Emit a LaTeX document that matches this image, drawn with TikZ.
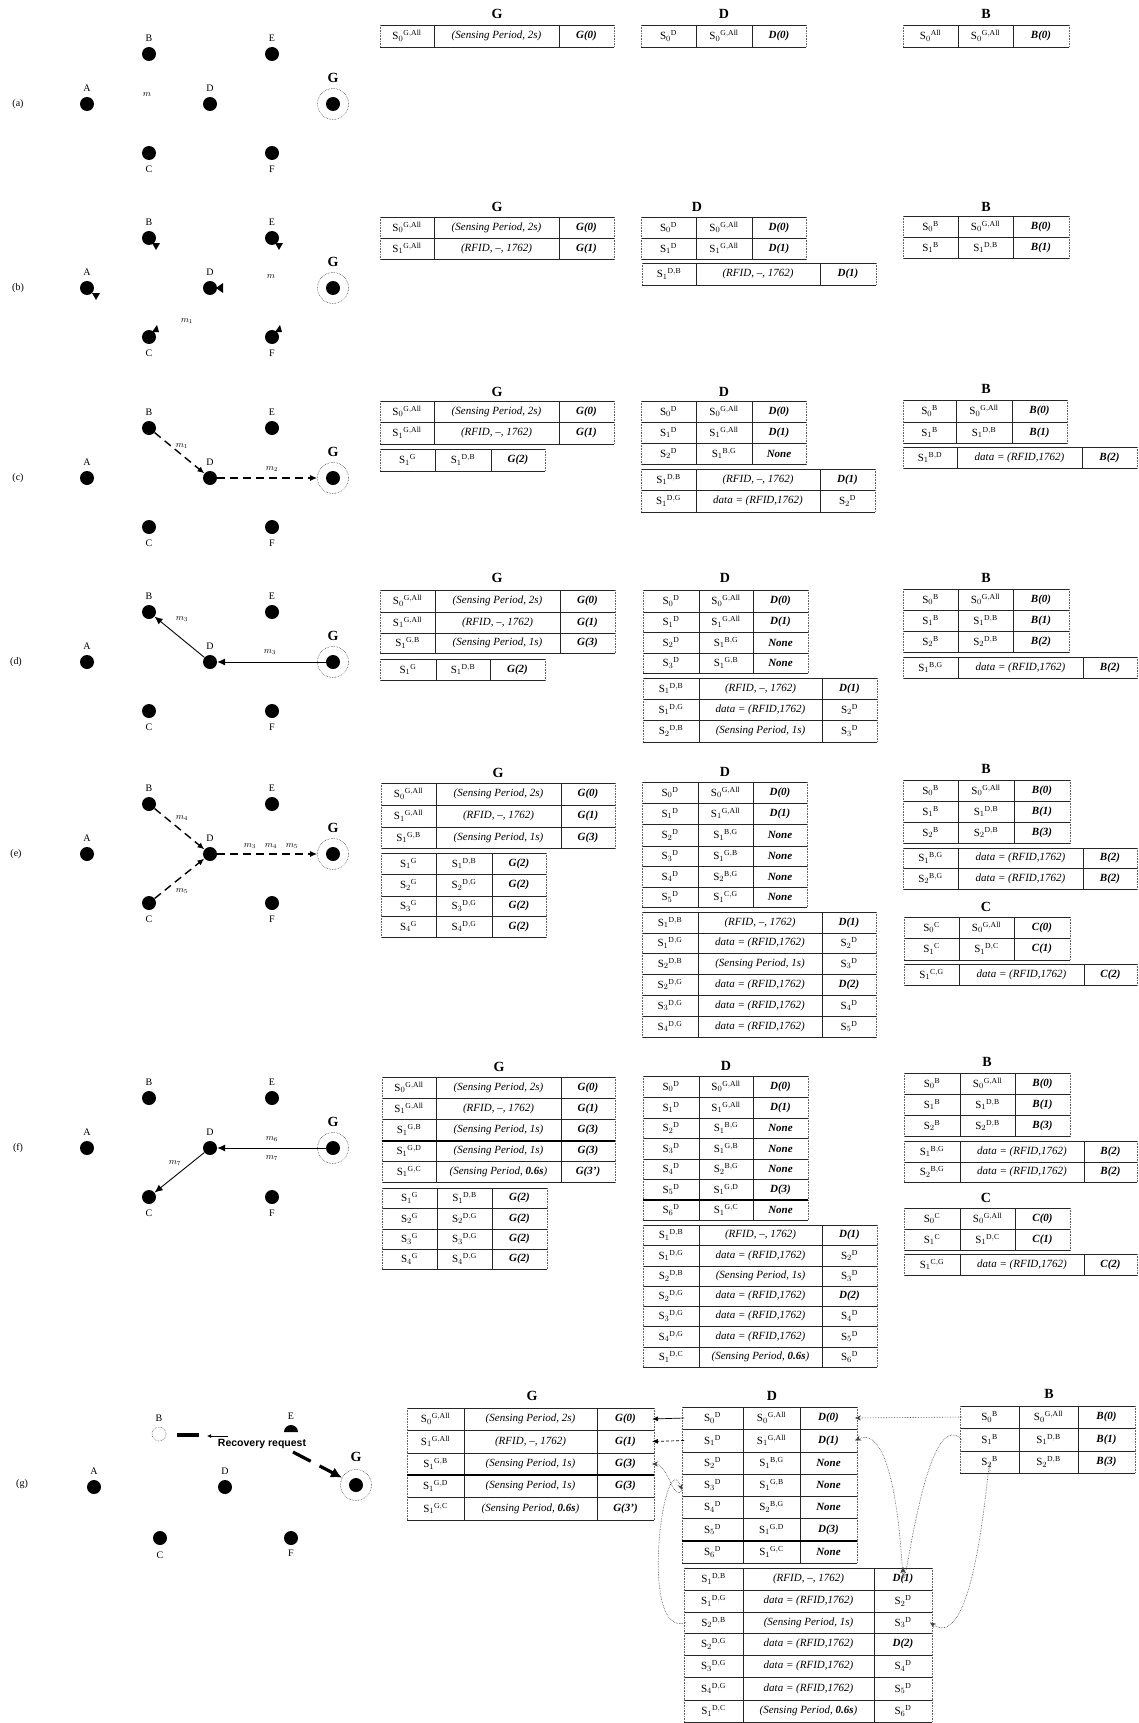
\documentclass[tikz,border=0pt]{standalone}
\usepackage{fontspec}
\setmainfont{Liberation Serif}
\newfontfamily\sansbold{Liberation Sans}
\usetikzlibrary{arrows.meta}
\newcommand\setcols[4]{\def\colA{#1}\def\colB{#2}\def\colC{#3}\def\colD{#4}}
\newcommand\trow[6]{%
  \node[cell, minimum width={(\colB-\colA-4)*1pt}, minimum height={(#3-#2-4)*1pt}] (#1-1) at ({(\colA+\colB)/2},{(#2+#3)/2}) {#4};
  \node[cell, minimum width={(\colC-\colB-4)*1pt}, minimum height={(#3-#2-4)*1pt}] (#1-2) at ({(\colB+\colC)/2},{(#2+#3)/2}) {#5};
  \node[cell, minimum width={(\colD-\colC-4)*1pt}, minimum height={(#3-#2-4)*1pt}] (#1-3) at ({(\colC+\colD)/2},{(#2+#3)/2}) {#6};
  \draw[hrule] (\colA,#2) -- (\colD,#2) (\colA,#3) -- (\colD,#3);
  \draw[hrule] (\colB,#2) -- (\colB,#3) (\colC,#2) -- (\colC,#3);
  \draw[orule] (\colA,#2) -- (\colA,#3) (\colD,#2) -- (\colD,#3);
}
\newcommand\Sx[2]{$\mathrm{S}_{#1}{}^{\mathrm{#2}}$}
\newcommand\bi[1]{\textbf{\textit{#1}}}
\newcommand\SPtwo{\textit{(Sensing Period, 2s)}}
\newcommand\SPone{\textit{(Sensing Period, 1s)}}
\newcommand\SPsix{\textit{(Sensing Period, \textbf{0.6s})}}
\newcommand\RF{\textit{(RFID, --, 1762)}}
\newcommand\DT{\textit{data = (RFID,1762)}}
\newcommand\graphrow[2]{%
  \node[dot] (#1A) at (87,#2) {};
  \node[dot] (#1B) at (149,#2-50) {};
  \node[dot] (#1C) at (149,#2+49) {};
  \node[dot] (#1D) at (210,#2) {};
  \node[dot] (#1E) at (272,#2-50) {};
  \node[dot] (#1F) at (272,#2+49) {};
  \node[dot] (#1G) at (333,#2) {};
  \node[ring] (#1Gr) at (333,#2) {};
  \node[nlab] (#1Al) at (87,#2-16) {A};
  \node[nlab] (#1Bl) at (149,#2-66) {B};
  \node[nlab] (#1Cl) at (149,#2+65) {C};
  \node[nlab] (#1Dl) at (210,#2-16) {D};
  \node[nlab] (#1El) at (272,#2-66) {E};
  \node[nlab] (#1Fl) at (272,#2+65) {F};
  \node[glab] (#1Gl) at (333,#2-26) {G};
}
\begin{document}
\begin{tikzpicture}[x=1pt,y=-1pt,
  cell/.style={inner sep=0pt, outer sep=0pt, font=\fontsize{11}{12}\selectfont},
  hrule/.style={line width=0.6pt, black!85},
  orule/.style={line width=0.6pt, black!60, densely dotted},
  thickrule/.style={line width=1.6pt},
  hdr/.style={font=\fontsize{14}{16}\selectfont\bfseries, inner sep=0pt},
  dot/.style={circle, fill=black, inner sep=0pt, minimum size=14pt},
  ring/.style={circle, draw=black!70, densely dotted, line width=0.6pt, inner sep=0pt, minimum size=31pt},
  nlab/.style={font=\fontsize{10}{12}\selectfont, inner sep=0pt},
  glab/.style={font=\fontsize{14}{16}\selectfont\bfseries, inner sep=0pt},
  rowlab/.style={font=\fontsize{10}{12}\selectfont, inner sep=0pt},
  mlab/.style={font=\fontsize{9}{10}\selectfont, inner sep=0pt},
  dsh/.style={line width=1.4pt, dash pattern=on 8pt off 5pt, -{Latex[length=7pt,width=6pt]}},
  sol/.style={line width=0.9pt, -{Latex[length=8pt,width=7pt]}},
  curv/.style={line width=0.6pt, black!75, densely dotted},
  recov/.style={line width=3.2pt, dash pattern=on 20pt off 10pt}
]
\useasboundingbox (0,0) rectangle (1138,1723);

%%%%%%%%%%%%%%%% graphs %%%%%%%%%%%%%%%%
\node[rowlab] (la) at (18,104) {(a)};
\graphrow{a}{104}
\node[mlab] (am) at (147,95) {$m$};

\node[rowlab] (lb) at (18,288) {(b)};
\graphrow{b}{288}
\node[mlab] (bm) at (271,277) {$m$};
\node[mlab] (bm1) at (187,321) {$m_1$};
\fill ([shift={(3,5)}]bB.center) -- ([shift={(11,5)}]bB.center) -- ([shift={(7,12)}]bB.center) -- cycle;
\fill ([shift={(3,5)}]bE.center) -- ([shift={(11,5)}]bE.center) -- ([shift={(7,12)}]bE.center) -- cycle;
\fill ([shift={(5,5)}]bA.center) -- ([shift={(13,5)}]bA.center) -- ([shift={(9,12)}]bA.center) -- cycle;
\fill ([shift={(6,0)}]bD.center) -- ([shift={(13,-5)}]bD.center) -- ([shift={(13,5)}]bD.center) -- cycle;
\fill ([shift={(3,-5)}]bC.center) -- ([shift={(10,-5)}]bC.center) -- ([shift={(8,-12)}]bC.center) -- cycle;
\fill ([shift={(3,-5)}]bF.center) -- ([shift={(10,-5)}]bF.center) -- ([shift={(8,-12)}]bF.center) -- cycle;

\node[rowlab] (lc) at (18,478) {(c)};
\graphrow{c}{478}
\draw[dsh] (cB) -- (cD);
\draw[dsh] (cD) -- (cGr);
\node[mlab] (cm1) at (182,446) {$m_1$};
\node[mlab] (cm2) at (272,469) {$m_2$};

\node[rowlab] (ld) at (16,662) {(d)};
\graphrow{d}{662}
\draw[sol] (dG) -- (dD);
\draw[sol] (dD) -- (dB);
\node[mlab] (dm1) at (270,652) {$m_3$};
\node[mlab] (dm2) at (182,619) {$m_3$};

\node[rowlab] (le) at (16,854) {(e)};
\graphrow{e}{854}
\draw[dsh] (eB) -- (eD);
\draw[dsh] (eC) -- (eD);
\draw[dsh] (eD) -- (eGr);
\node[mlab] (em1) at (182,818) {$m_4$};
\node[mlab] (em2) at (182,891) {$m_5$};
\node[mlab] (em3) at (250,846) {$m_3$};
\node[mlab] (em4) at (271,846) {$m_4$};
\node[mlab] (em5) at (292,846) {$m_5$};

\node[rowlab] (lf) at (18,1148) {(f)};
\graphrow{f}{1148}
\draw[sol] (fG) -- (fD);
\draw[sol] (fD) -- (fC);
\node[mlab] (fm1) at (272,1139) {$m_6$};
\node[mlab] (fm2) at (272,1158) {$m_7$};
\node[mlab] (fm3) at (175,1163) {$m_7$};

% (g)
\node[rowlab] (lg) at (22,1484) {(g)};
\node[dot] (gA) at (94,1487) {};
\node[circle, draw=black!60, densely dotted, line width=0.6pt, inner sep=0pt, minimum size=14pt] (gB) at (159,1434) {};
\coordinate (gE) at (291,1432);
\fill ([xshift=-7pt]gE) arc[start angle=180, end angle=360, radius=7] -- cycle;
\node[dot] (gD) at (225,1487) {};
\node[dot] (gC) at (160,1538) {};
\node[dot] (gF) at (291,1538) {};
\node[dot] (gG) at (356,1485) {};
\node[ring] (gGr) at (356,1485) {};
\node[nlab] (gAl) at (94,1471) {A};
\node[nlab] (gBl) at (159,1418) {B};
\node[nlab] (gEl) at (291,1416) {E};
\node[nlab] (gDl) at (225,1471) {D};
\node[nlab] (gCl) at (160,1555) {C};
\node[nlab] (gFl) at (291,1553) {F};
\node[glab] (gGl) at (356,1457) {G};
\node[font=\sansbold\bfseries\fontsize{10.5}{12}\selectfont, inner sep=0pt] (gRt) at (262,1444) {Recovery request};
\coordinate (gR0) at (177,1435);
\coordinate (gR1) at (199,1435);
\draw[line width=3.2pt] (gR0) -- (gR1);
\coordinate (gR2) at (228,1436);
\coordinate (gR3) at (207,1436);
\draw[line width=1pt, -{Latex[length=4pt,width=4pt]}] (gR2) -- (gR3);
\coordinate (gR4) at (293,1452);
\draw[recov, -{Latex[length=11pt,width=11pt]}] (gR4) -- (gGr);

%%%%%%%%%%%%%%%% tables (a) %%%%%%%%%%%%%%%%
\node[hdr] (aGh) at (497,14) {G};
\node[hdr] (aDh) at (724,14) {D};
\node[hdr] (aBh) at (986,14) {B};
\setcols{380}{434}{559}{614}
\trow{aG0}{25}{47}{\Sx{0}{G,All}}{\SPtwo}{\bi{G(0)}}
\setcols{641}{696}{752}{806}
\trow{aD0}{25}{47}{\Sx{0}{D}}{\Sx{0}{G,All}}{\bi{D(0)}}
\setcols{903}{958}{1013}{1069}
\trow{aB0}{25}{47}{\Sx{0}{All}}{\Sx{0}{G,All}}{\bi{B(0)}}

%%%%%%%%%%%%%%%% tables (b) %%%%%%%%%%%%%%%%
\node[hdr] (bGh) at (497,207) {G};
\node[hdr] (bDh) at (697,207) {D};
\node[hdr] (bBh) at (986,207) {B};
\setcols{380}{434}{559}{614}
\trow{bG0}{217}{238}{\Sx{0}{G,All}}{\SPtwo}{\bi{G(0)}}
\trow{bG1}{238}{259}{\Sx{1}{G,All}}{\RF}{\bi{G(1)}}
\setcols{641}{696}{752}{806}
\trow{bD0}{217}{238}{\Sx{0}{D}}{\Sx{0}{G,All}}{\bi{D(0)}}
\trow{bD1}{238}{259}{\Sx{1}{D}}{\Sx{1}{G,All}}{\bi{D(1)}}
\setcols{642}{696}{820}{876}
\trow{bE0}{263}{285}{\Sx{1}{D,B}}{\RF}{\bi{D(1)}}
\setcols{903}{958}{1013}{1069}
\trow{bB0}{216}{237}{\Sx{0}{B}}{\Sx{0}{G,All}}{\bi{B(0)}}
\trow{bB1}{237}{258}{\Sx{1}{B}}{\Sx{1}{D,B}}{\bi{B(1)}}

%%%%%%%%%%%%%%%% tables (c) %%%%%%%%%%%%%%%%
\node[hdr] (cGh) at (497,392) {G};
\node[hdr] (cDh) at (724,392) {D};
\node[hdr] (cBh) at (986,389) {B};
\setcols{380}{434}{559}{614}
\trow{cG0}{401}{422}{\Sx{0}{G,All}}{\SPtwo}{\bi{G(0)}}
\trow{cG1}{422}{444}{\Sx{1}{G,All}}{\RF}{\bi{G(1)}}
\setcols{380}{435}{491}{545}
\trow{cH0}{449}{471}{\Sx{1}{G}}{\Sx{1}{D,B}}{\bi{G(2)}}
\setcols{641}{696}{752}{806}
\trow{cD0}{401}{422}{\Sx{0}{D}}{\Sx{0}{G,All}}{\bi{D(0)}}
\trow{cD1}{422}{443}{\Sx{1}{D}}{\Sx{1}{G,All}}{\bi{D(1)}}
\trow{cD2}{443}{464}{\Sx{2}{D}}{\Sx{1}{B,G}}{\bi{None}}
\setcols{641}{696}{820}{875}
\trow{cE0}{469}{490}{\Sx{1}{D,B}}{\RF}{\bi{D(1)}}
\trow{cE1}{490}{512}{\Sx{1}{D,G}}{\DT}{\Sx{2}{D}}
\setcols{903}{956}{1012}{1067}
\trow{cB0}{400}{422}{\Sx{0}{B}}{\Sx{0}{G,All}}{\bi{B(0)}}
\trow{cB1}{422}{443}{\Sx{1}{B}}{\Sx{1}{D,B}}{\bi{B(1)}}
\setcols{903}{957}{1082}{1137}
\trow{cF0}{447}{468}{\Sx{1}{B,D}}{\DT}{\bi{B(2)}}

%%%%%%%%%%%%%%%% tables (d) %%%%%%%%%%%%%%%%
\node[hdr] (dGh) at (497,578) {G};
\node[hdr] (dDh) at (725,578) {D};
\node[hdr] (dBh) at (986,578) {B};
\setcols{380}{435}{560}{615}
\trow{dG0}{590}{612}{\Sx{0}{G,All}}{\SPtwo}{\bi{G(0)}}
\trow{dG1}{612}{633}{\Sx{1}{G,All}}{\RF}{\bi{G(1)}}
\trow{dG2}{633}{653}{\Sx{1}{G,B}}{\SPone}{\bi{G(3)}}
\setcols{380}{436}{490}{545}
\trow{dH0}{659}{680}{\Sx{1}{G}}{\Sx{1}{D,B}}{\bi{G(2)}}
\setcols{643}{699}{753}{808}
\trow{dD0}{590}{612}{\Sx{0}{D}}{\Sx{0}{G,All}}{\bi{D(0)}}
\trow{dD1}{612}{632}{\Sx{1}{D}}{\Sx{1}{G,All}}{\bi{D(1)}}
\trow{dD2}{632}{653}{\Sx{2}{D}}{\Sx{1}{B,G}}{\bi{None}}
\trow{dD3}{653}{673}{\Sx{3}{D}}{\Sx{1}{G,B}}{\bi{None}}
\setcols{643}{699}{822}{877}
\trow{dE0}{678}{699}{\Sx{1}{D,B}}{\RF}{\bi{D(1)}}
\trow{dE1}{699}{720}{\Sx{1}{D,G}}{\DT}{\Sx{2}{D}}
\trow{dE2}{720}{742}{\Sx{2}{D,B}}{\SPone}{\Sx{3}{D}}
\setcols{903}{958}{1013}{1069}
\trow{dB0}{589}{610}{\Sx{0}{B}}{\Sx{0}{G,All}}{\bi{B(0)}}
\trow{dB1}{610}{631}{\Sx{1}{B}}{\Sx{1}{D,B}}{\bi{B(1)}}
\trow{dB2}{631}{652}{\Sx{2}{B}}{\Sx{2}{D,B}}{\bi{B(2)}}
\setcols{903}{958}{1083}{1137}
\trow{dF0}{657}{678}{\Sx{1}{B,G}}{\DT}{\bi{B(2)}}

%%%%%%%%%%%%%%%% tables (e) %%%%%%%%%%%%%%%%
\node[hdr] (eGh) at (498,773) {G};
\node[hdr] (eDh) at (725,772) {D};
\node[hdr] (eBh) at (986,769) {B};
\node[hdr] (eCh) at (986,907) {C};
\setcols{381}{436}{561}{615}
\trow{eG0}{783}{805}{\Sx{0}{G,All}}{\SPtwo}{\bi{G(0)}}
\trow{eG1}{805}{827}{\Sx{1}{G,All}}{\RF}{\bi{G(1)}}
\trow{eG2}{827}{848}{\Sx{1}{G,B}}{\SPone}{\bi{G(3)}}
\setcols{381}{436}{492}{546}
\trow{eH0}{853}{874}{\Sx{1}{G}}{\Sx{1}{D,B}}{\bi{G(2)}}
\trow{eH1}{874}{896}{\Sx{2}{G}}{\Sx{2}{D,G}}{\bi{G(2)}}
\trow{eH2}{896}{916}{\Sx{3}{G}}{\Sx{3}{D,G}}{\bi{G(2)}}
\trow{eH3}{916}{937}{\Sx{4}{G}}{\Sx{4}{D,G}}{\bi{G(2)}}
\setcols{642}{698}{753}{807}
\trow{eD0}{782}{803}{\Sx{0}{D}}{\Sx{0}{G,All}}{\bi{D(0)}}
\trow{eD1}{803}{824}{\Sx{1}{D}}{\Sx{1}{G,All}}{\bi{D(1)}}
\trow{eD2}{824}{846}{\Sx{2}{D}}{\Sx{1}{B,G}}{\bi{None}}
\trow{eD3}{846}{866}{\Sx{3}{D}}{\Sx{1}{G,B}}{\bi{None}}
\trow{eD4}{866}{887}{\Sx{4}{D}}{\Sx{2}{B,G}}{\bi{None}}
\trow{eD5}{887}{907}{\Sx{5}{D}}{\Sx{1}{C,G}}{\bi{None}}
\setcols{642}{698}{822}{876}
\trow{eE0}{912}{933}{\Sx{1}{D,B}}{\RF}{\bi{D(1)}}
\trow{eE1}{933}{953}{\Sx{1}{D,G}}{\DT}{\Sx{2}{D}}
\trow{eE2}{953}{974}{\Sx{2}{D,B}}{\SPone}{\Sx{3}{D}}
\trow{eE3}{974}{995}{\Sx{2}{D,G}}{\DT}{\bi{D(2)}}
\trow{eE4}{995}{1016}{\Sx{3}{D,G}}{\DT}{\Sx{4}{D}}
\trow{eE5}{1016}{1037}{\Sx{4}{D,G}}{\DT}{\Sx{5}{D}}
\setcols{903}{958}{1014}{1070}
\trow{eB0}{780}{801}{\Sx{0}{B}}{\Sx{0}{G,All}}{\bi{B(0)}}
\trow{eB1}{801}{822}{\Sx{1}{B}}{\Sx{1}{D,B}}{\bi{B(1)}}
\trow{eB2}{822}{843}{\Sx{2}{B}}{\Sx{2}{D,B}}{\bi{B(3)}}
\setcols{903}{958}{1083}{1137}
\trow{eF0}{848}{868}{\Sx{1}{B,G}}{\DT}{\bi{B(2)}}
\trow{eF1}{868}{889}{\Sx{2}{B,G}}{\DT}{\bi{B(2)}}
\setcols{904}{959}{1014}{1070}
\trow{eC0}{917}{938}{\Sx{0}{C}}{\Sx{0}{G,All}}{\bi{C(0)}}
\trow{eC1}{938}{960}{\Sx{1}{C}}{\Sx{1}{D,C}}{\bi{C(1)}}
\setcols{904}{959}{1084}{1137}
\trow{eK0}{964}{985}{\Sx{1}{C,G}}{\DT}{\bi{C(2)}}

%%%%%%%%%%%%%%%% tables (f) %%%%%%%%%%%%%%%%
\node[hdr] (fGh) at (499,1067) {G};
\node[hdr] (fDh) at (726,1066) {D};
\node[hdr] (fBh) at (987,1062) {B};
\node[hdr] (fCh) at (986,1198) {C};
\setcols{382}{436}{561}{615}
\trow{fG0}{1077}{1098}{\Sx{0}{G,All}}{\SPtwo}{\bi{G(0)}}
\trow{fG1}{1098}{1119}{\Sx{1}{G,All}}{\RF}{\bi{G(1)}}
\trow{fG2}{1119}{1141}{\Sx{1}{G,B}}{\SPone}{\bi{G(3)}}
\trow{fG3}{1141}{1161}{\Sx{1}{G,D}}{\SPone}{\bi{G(3)}}
\trow{fG4}{1161}{1182}{\Sx{1}{G,C}}{\SPsix}{\bi{G(3')}}
\draw[thickrule] (382,1141) -- (615,1141);
\setcols{382}{437}{492}{547}
\trow{fH0}{1188}{1208}{\Sx{1}{G}}{\Sx{1}{D,B}}{\bi{G(2)}}
\trow{fH1}{1208}{1229}{\Sx{2}{G}}{\Sx{2}{D,G}}{\bi{G(2)}}
\trow{fH2}{1229}{1249}{\Sx{3}{G}}{\Sx{3}{D,G}}{\bi{G(2)}}
\trow{fH3}{1249}{1269}{\Sx{4}{G}}{\Sx{4}{D,G}}{\bi{G(2)}}
\setcols{643}{699}{753}{808}
\trow{fD0}{1076}{1097}{\Sx{0}{D}}{\Sx{0}{G,All}}{\bi{D(0)}}
\trow{fD1}{1097}{1118}{\Sx{1}{D}}{\Sx{1}{G,All}}{\bi{D(1)}}
\trow{fD2}{1118}{1138}{\Sx{2}{D}}{\Sx{1}{B,G}}{\bi{None}}
\trow{fD3}{1138}{1159}{\Sx{3}{D}}{\Sx{1}{G,B}}{\bi{None}}
\trow{fD4}{1159}{1179}{\Sx{4}{D}}{\Sx{2}{B,G}}{\bi{None}}
\trow{fD5}{1179}{1200}{\Sx{5}{D}}{\Sx{1}{G,D}}{\bi{D(3)}}
\trow{fD6}{1200}{1220}{\Sx{6}{D}}{\Sx{1}{G,C}}{\bi{None}}
\draw[thickrule] (643,1200) -- (808,1200);
\setcols{643}{699}{822}{877}
\trow{fE0}{1225}{1245}{\Sx{1}{D,B}}{\RF}{\bi{D(1)}}
\trow{fE1}{1245}{1266}{\Sx{1}{D,G}}{\DT}{\Sx{2}{D}}
\trow{fE2}{1266}{1286}{\Sx{2}{D,B}}{\SPone}{\Sx{3}{D}}
\trow{fE3}{1286}{1306}{\Sx{2}{D,G}}{\DT}{\bi{D(2)}}
\trow{fE4}{1306}{1326}{\Sx{3}{D,G}}{\DT}{\Sx{4}{D}}
\trow{fE5}{1326}{1347}{\Sx{4}{D,G}}{\DT}{\Sx{5}{D}}
\trow{fE6}{1347}{1367}{\Sx{1}{D,C}}{\SPsix}{\Sx{6}{D}}
\setcols{904}{960}{1015}{1070}
\trow{fB0}{1073}{1094}{\Sx{0}{B}}{\Sx{0}{G,All}}{\bi{B(0)}}
\trow{fB1}{1094}{1115}{\Sx{1}{B}}{\Sx{1}{D,B}}{\bi{B(1)}}
\trow{fB2}{1115}{1136}{\Sx{2}{B}}{\Sx{2}{D,B}}{\bi{B(3)}}
\setcols{904}{960}{1084}{1137}
\trow{fF0}{1141}{1162}{\Sx{1}{B,G}}{\DT}{\bi{B(2)}}
\trow{fF1}{1162}{1182}{\Sx{2}{B,G}}{\DT}{\bi{B(2)}}
\setcols{904}{960}{1015}{1070}
\trow{fC0}{1208}{1229}{\Sx{0}{C}}{\Sx{0}{G,All}}{\bi{C(0)}}
\trow{fC1}{1229}{1250}{\Sx{1}{C}}{\Sx{1}{D,C}}{\bi{C(1)}}
\setcols{904}{960}{1084}{1137}
\trow{fK0}{1254}{1275}{\Sx{1}{C,G}}{\DT}{\bi{C(2)}}

%%%%%%%%%%%%%%%% tables (g) %%%%%%%%%%%%%%%%
\node[hdr] (gGh) at (532,1396) {G};
\node[hdr] (gDh) at (772,1396) {D};
\node[hdr] (gBh) at (1049,1394) {B};
\setcols{407}{464}{597}{654}
\trow{gG0}{1408}{1430}{\Sx{0}{G,All}}{\SPtwo}{\bi{G(0)}}
\trow{gG1}{1430}{1453}{\Sx{1}{G,All}}{\RF}{\bi{G(1)}}
\trow{gG2}{1453}{1475}{\Sx{1}{G,B}}{\SPone}{\bi{G(3)}}
\trow{gG3}{1475}{1497}{\Sx{1}{G,D}}{\SPone}{\bi{G(3)}}
\trow{gG4}{1497}{1520}{\Sx{1}{G,C}}{\SPsix}{\bi{G(3')}}
\draw[thickrule] (407,1475) -- (654,1475);
\setcols{682}{743}{800}{857}
\trow{gD0}{1407}{1429}{\Sx{0}{D}}{\Sx{0}{G,All}}{\bi{D(0)}}
\trow{gD1}{1429}{1452}{\Sx{1}{D}}{\Sx{1}{G,All}}{\bi{D(1)}}
\trow{gD2}{1452}{1474}{\Sx{2}{D}}{\Sx{1}{B,G}}{\bi{None}}
\trow{gD3}{1474}{1496}{\Sx{3}{D}}{\Sx{1}{G,B}}{\bi{None}}
\trow{gD4}{1496}{1518}{\Sx{4}{D}}{\Sx{2}{B,G}}{\bi{None}}
\trow{gD5}{1518}{1541}{\Sx{5}{D}}{\Sx{1}{G,D}}{\bi{D(3)}}
\trow{gD6}{1541}{1563}{\Sx{6}{D}}{\Sx{1}{G,C}}{\bi{None}}
\draw[thickrule] (682,1541) -- (857,1541);
\setcols{684}{743}{874}{932}
\trow{gE0}{1568}{1590}{\Sx{1}{D,B}}{\RF}{\bi{D(1)}}
\trow{gE1}{1590}{1612}{\Sx{1}{D,G}}{\DT}{\Sx{2}{D}}
\trow{gE2}{1612}{1633}{\Sx{2}{D,B}}{\SPone}{\Sx{3}{D}}
\trow{gE3}{1633}{1655}{\Sx{2}{D,G}}{\DT}{\bi{D(2)}}
\trow{gE4}{1655}{1677}{\Sx{3}{D,G}}{\DT}{\Sx{4}{D}}
\trow{gE5}{1677}{1700}{\Sx{4}{D,G}}{\DT}{\Sx{5}{D}}
\trow{gE6}{1700}{1722}{\Sx{1}{D,C}}{\SPsix}{\Sx{6}{D}}
\setcols{960}{1019}{1078}{1135}
\trow{gB0}{1406}{1428}{\Sx{0}{B}}{\Sx{0}{G,All}}{\bi{B(0)}}
\trow{gB1}{1428}{1451}{\Sx{1}{B}}{\Sx{1}{D,B}}{\bi{B(1)}}
\trow{gB2}{1451}{1473}{\Sx{2}{B}}{\Sx{2}{D,B}}{\bi{B(3)}}

% (g) connectors
\draw[line width=0.7pt, -{Latex[length=6pt,width=5pt]}] (gD0-1.west) -- (gG0-3.east);
\draw[line width=0.7pt, densely dashed, -{Latex[length=6pt,width=5pt]}] (gD1-1.west) -- (gG1-3.east);
\coordinate (gP) at (682,1490);
\draw[curv, -{Stealth[length=6pt,width=5pt]}] (gE2-1.west) to[out=200,in=110] (gP);
\draw[curv, -{Stealth[length=6pt,width=5pt]}] (gP) to[out=-120,in=0] (gG2-3.east);
\draw[curv, -{Stealth[length=6pt,width=5pt]}] (gB0-1.west) -- (gD0-3.east);
\coordinate (gQ) at (903,1567);
\draw[curv, -{Stealth[length=6pt,width=5pt]}] (gB1-1.west) to[out=135,in=-90] (gQ);
\draw[curv, {Stealth[length=6pt,width=5pt]}-{Stealth[length=6pt,width=5pt]}] (gD1-3.east) to[out=25,in=-90] (gQ);
\coordinate (gS) at (990,1474);
\draw[curv, -{Stealth[length=6pt,width=5pt]}] (gS) to[out=90,in=-35] (gE2-3.east);
\end{tikzpicture}
\end{document}
